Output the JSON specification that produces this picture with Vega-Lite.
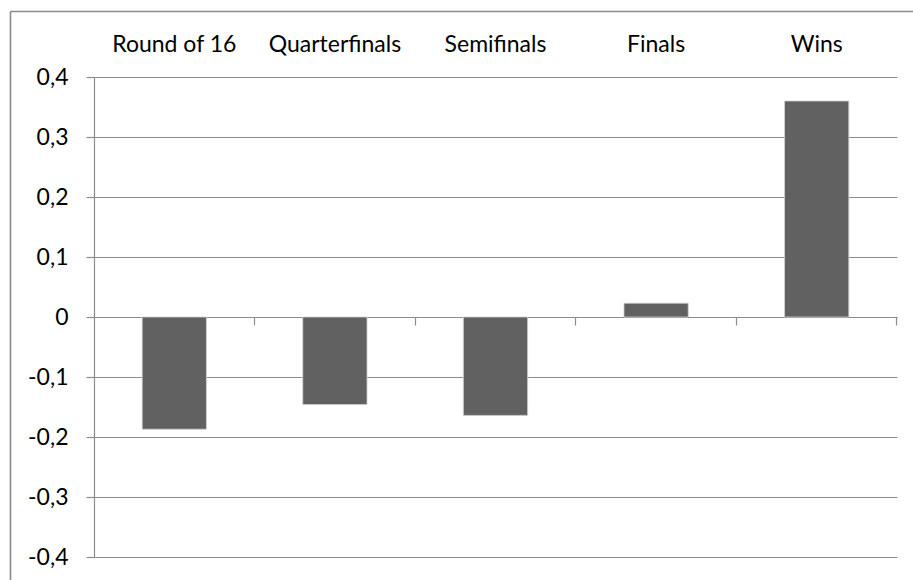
{
  "$schema": "https://vega.github.io/schema/vega-lite/v6.json",
  "width": 903,
  "height": 569,
  "autosize": {"type": "none"},
  "padding": {"left": 10, "top": 11, "right": 0, "bottom": 0},
  "background": "white",
  "data": {
    "values": [
      {"stage": "Round of 16", "value": -0.187},
      {"stage": "Quarterfinals", "value": -0.146},
      {"stage": "Semifinals", "value": -0.164},
      {"stage": "Finals", "value": 0.023},
      {"stage": "Wins", "value": 0.36}
    ]
  },
  "layer": [
    {
      "mark": {"type": "bar", "color": "#616161", "stroke": "#d0d0d0", "strokeWidth": 0.8},
      "encoding": {
        "x": {
          "field": "stage",
          "type": "nominal",
          "sort": null,
          "scale": {"range": [84, 887], "paddingInner": 0.6, "paddingOuter": 0.3},
          "axis": {
            "orient": "top",
            "offset": -66,
            "title": null,
            "domain": false,
            "ticks": false,
            "grid": false,
            "labelAngle": 0,
            "labelPadding": 21,
            "labelFont": "Lato",
            "labelFontSize": 23,
            "labelColor": "black"
          }
        },
        "y": {
          "field": "value",
          "type": "quantitative",
          "scale": {"domain": [-0.4, 0.4], "range": [546, 66], "nice": false},
          "axis": {
            "orient": "left",
            "title": null,
            "offset": -84,
            "values": [-0.4, -0.3, -0.2, -0.1, 0, 0.1, 0.2, 0.3, 0.4],
            "labelExpr": "replace(toString(round(datum.value * 10) / 10), '.', ',')",
            "grid": true,
            "gridColor": "#8c8c8c",
            "gridWidth": 1.2,
            "domainColor": "#8c8c8c",
            "domainWidth": 1.2,
            "tickColor": "#8c8c8c",
            "tickSize": 8,
            "tickWidth": 1.2,
            "labelPadding": 18,
            "labelFont": "Lato",
            "labelFontSize": 23,
            "labelColor": "black"
          }
        }
      }
    },
    {
      "mark": {"type": "tick", "opacity": 0},
      "encoding": {
        "x": {
          "field": "stage",
          "type": "nominal",
          "sort": null,
          "scale": {"range": [84, 887], "paddingInner": 0.6, "paddingOuter": 0.3},
          "axis": {
            "orient": "bottom",
            "offset": -263,
            "title": null,
            "labels": false,
            "grid": false,
            "domain": true,
            "domainColor": "#8c8c8c",
            "domainWidth": 1.2,
            "ticks": true,
            "bandPosition": 1.75,
            "tickColor": "#8c8c8c",
            "tickWidth": 1.2,
            "tickSize": 8
          }
        },
        "y": {
          "field": "value",
          "type": "quantitative",
          "scale": {"domain": [-0.4, 0.4], "range": [546, 66], "nice": false},
          "axis": null
        }
      }
    },
    {
      "mark": {"type": "tick", "opacity": 0},
      "encoding": {
        "x": {
          "field": "stage",
          "type": "nominal",
          "sort": null,
          "scale": {"range": [0, 903]},
          "axis": {
            "orient": "top",
            "offset": 0,
            "title": null,
            "labels": false,
            "ticks": false,
            "grid": false,
            "domain": true,
            "domainColor": "#8a8a8a",
            "domainWidth": 1.6
          }
        },
        "y": {
          "field": "value",
          "type": "quantitative",
          "scale": {"domain": [-0.4, 0.4], "range": [569, 0], "nice": false},
          "axis": {
            "orient": "left",
            "offset": 0,
            "title": null,
            "labels": false,
            "ticks": false,
            "grid": false,
            "domain": true,
            "domainColor": "#8a8a8a",
            "domainWidth": 1.6
          }
        }
      }
    }
  ],
  "resolve": {
    "scale": {"x": "independent", "y": "independent"},
    "axis": {"x": "independent", "y": "independent"}
  },
  "config": {
    "view": {"stroke": null},
    "axis": {"labelFont": "Lato"}
  }
}
